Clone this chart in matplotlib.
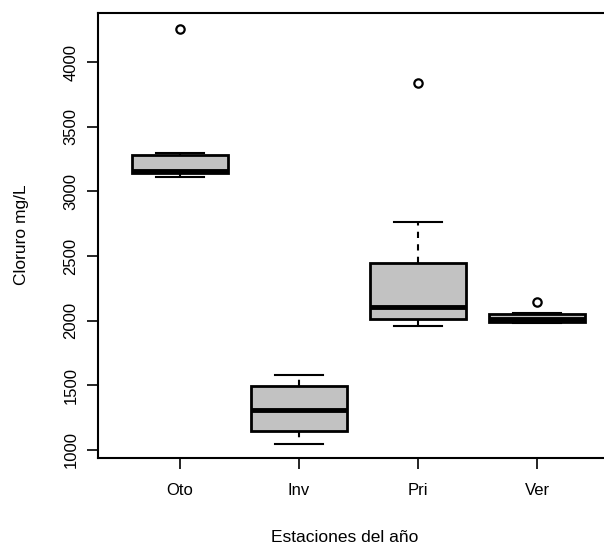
import matplotlib
matplotlib.use("Agg")
import matplotlib.pyplot as plt
from matplotlib import rc

rc('font', **{'family': 'sans-serif', 'sans-serif': ['Liberation Sans', 'DejaVu Sans']})

fs = 12

# boxplot summaries (Cloruro mg/L)
seasons = ["Oto", "Inv", "Pri", "Ver"]
whislo = [3115, 1045, 1960, 1982]
q1 = [3142, 1147, 2013, 1990]
med = [3160, 1310, 2106, 2012]
q3 = [3281, 1495, 2446, 2052]
whishi = [3300, 1578, 2763, 2058]
fliers = [[4256], [], [3840], [2148]]

fig = plt.figure(figsize=(6.04, 5.50), dpi=100)
ax = fig.add_axes([98 / 604, 92 / 550, (604 - 98) / 604, 445 / 550])

stats = []
for i, lab in enumerate(seasons):
    stats.append(dict(label=lab, whislo=whislo[i], q1=q1[i], med=med[i],
                      q3=q3[i], whishi=whishi[i], fliers=fliers[i]))

bp = ax.bxp(stats, positions=range(1, 5), widths=0.8, patch_artist=True,
            boxprops=dict(facecolor='#c2c2c2', edgecolor='black', linewidth=2),
            medianprops=dict(color='black', linewidth=3.5),
            whiskerprops=dict(color='black', linewidth=1.5, linestyle=(0, (3, 3))),
            capprops=dict(color='black', linewidth=1.5),
            flierprops=dict(marker='o', markerfacecolor='white', markeredgecolor='black',
                            markersize=6, markeredgewidth=1.6),
            capwidths=0.4)

ax.set_xlim(1 - 82 / 119, 4 + 67 / 119)
ax.set_ylim(938, 4380)
ax.set_yticks([1000, 1500, 2000, 2500, 3000, 3500, 4000])
ax.set_xticks(range(1, 5))
ax.set_xticklabels(seasons)

ax.tick_params(axis='y', length=8, width=1.2, pad=6, labelsize=fs, labelrotation=90)
ax.tick_params(axis='x', length=8, width=1.2, pad=10, labelsize=fs)
for t in ax.get_yticklabels():
    t.set_verticalalignment('center')

for s in ['left', 'bottom', 'top']:
    ax.spines[s].set_linewidth(1.5)
ax.spines['right'].set_visible(False)

fig.text(22 / 604, 1 - 235 / 550, 'Cloruro mg/L', rotation=90, fontsize=fs + 0.5,
         ha='center', va='center')
fig.text(345 / 604, 1 - 538 / 550, 'Estaciones del año', fontsize=fs + 0.5,
         ha='center', va='center')

fig.savefig('out.png', dpi=100)
plt.close(fig)
